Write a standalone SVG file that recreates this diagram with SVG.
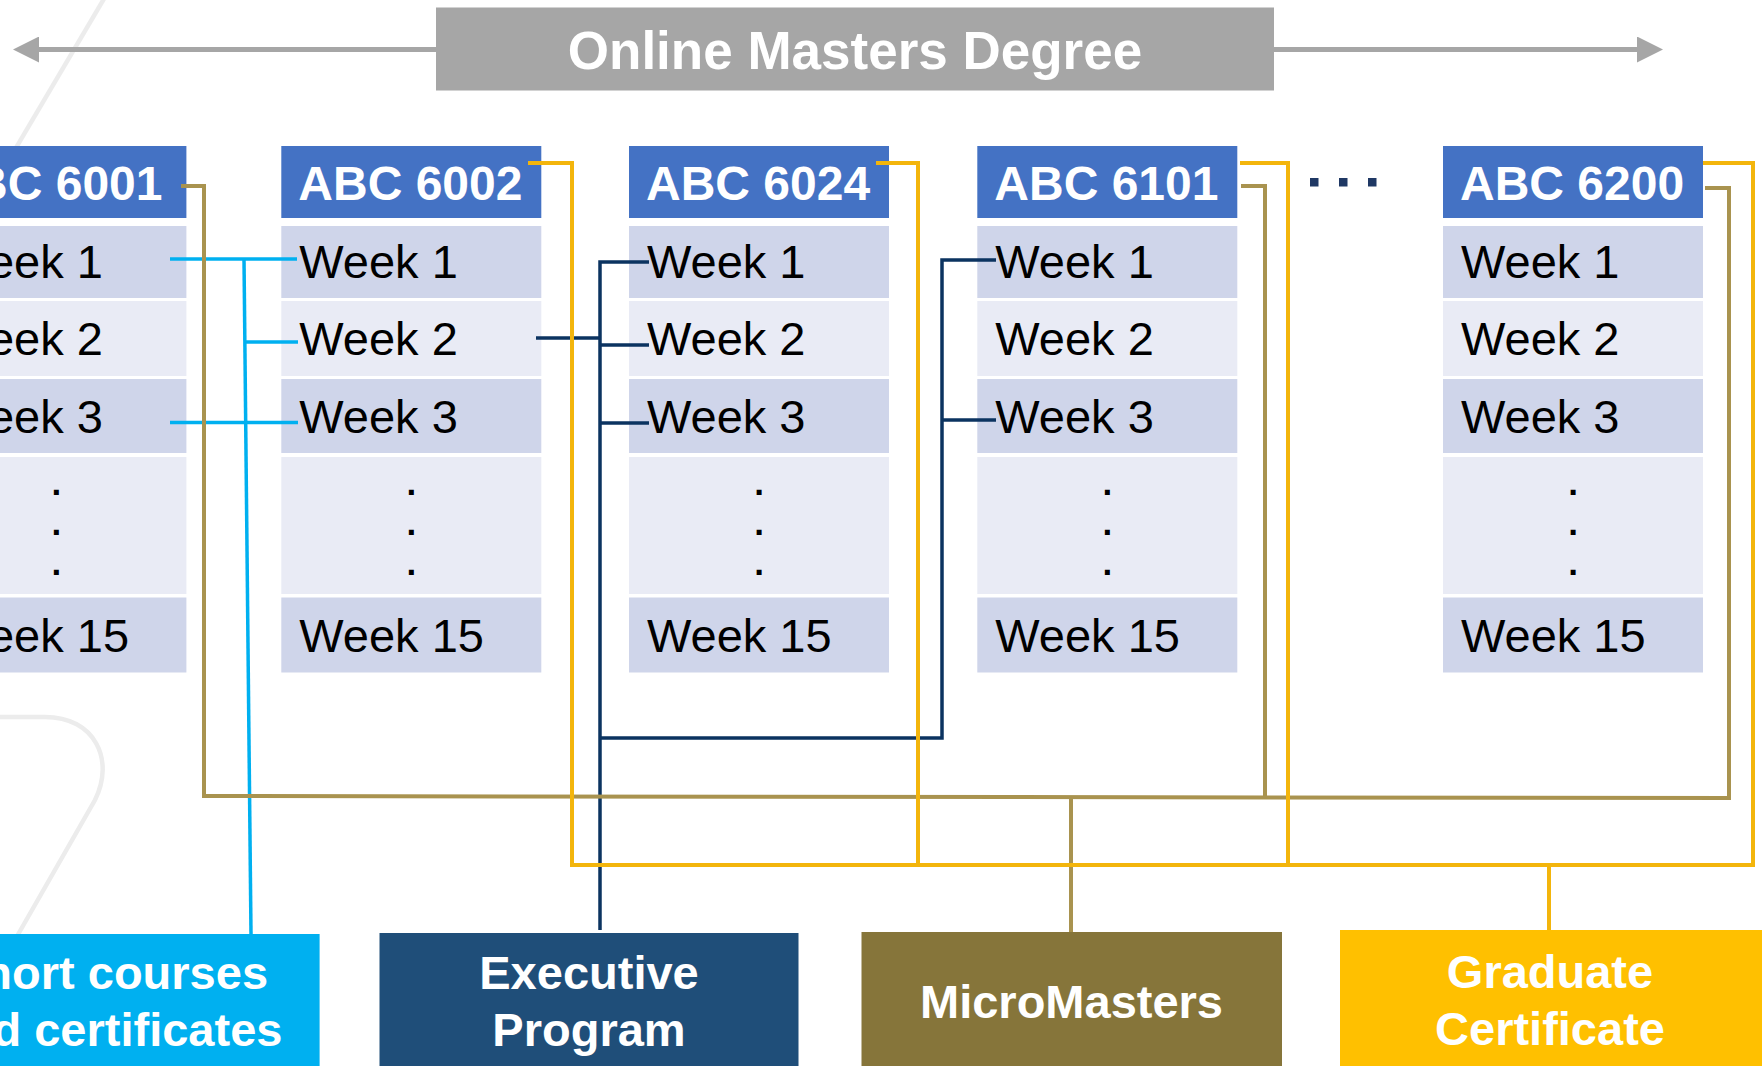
<svg xmlns="http://www.w3.org/2000/svg" width="1762" height="1066" viewBox="0 0 1762 1066">
<style>
  text { font-family: "Liberation Sans", Arial, sans-serif; }
  .hdr { fill: #4472C4; }
  .rowA { fill: #CFD5EA; }
  .rowB { fill: #E9EBF5; }
  .hdrT { fill: #FFFFFF; font-size: 48px; font-weight: bold; }
  .wk { fill: #000000; font-size: 47px; }
  .dot { fill: #000000; font-size: 35px; font-weight: bold; text-anchor: middle; }
  .boxT { fill: #FFFFFF; font-size: 47px; font-weight: bold; text-anchor: middle; }
  .c { fill: none; stroke-linejoin: miter; stroke-linecap: butt; }
  .cyan { stroke: #00B0F0; stroke-width: 3.5; }
  .navy { stroke: #0B3360; stroke-width: 3.5; }
  .olive { stroke: #A9934F; stroke-width: 4; }
  .gold { stroke: #F3B50C; stroke-width: 4; }
  .wm { fill: none; stroke: #ECECEC; stroke-width: 4.5; }
</style>
<defs>
  <marker id="ah" markerUnits="userSpaceOnUse" markerWidth="26" markerHeight="26" refX="0" refY="13" orient="auto-start-reverse">
    <path d="M0,0 L26,13 L0,26 Z" fill="#A6A6A6"/>
  </marker>
</defs>
<rect width="1762" height="1066" fill="#FFFFFF"/>

<g id="watermark">
  <path class="wm" d="M108,-8 L-6,185"/>
  <path class="wm" d="M-30,717 L45,717 C95,717 115,760 95,800 L8,952"/>
</g>

<g id="title">
  <line x1="39" y1="49.5" x2="1637" y2="49.5" stroke="#A6A6A6" stroke-width="5" marker-start="url(#ah)" marker-end="url(#ah)"/>
  <rect x="436" y="7.5" width="838" height="83" fill="#A6A6A6"/>
  <text x="855" y="69" fill="#FFFFFF" font-size="53" font-weight="bold" text-anchor="middle">Online Masters Degree</text>
</g>

<g id="course-6001" transform="translate(-73.6,0)">
  <rect class="hdr" x="0" y="146" width="260" height="72"/>
  <text class="hdrT" x="12" y="200">ABC 6001</text>
  <rect class="rowA" x="0" y="226" width="260" height="72"/>
  <text class="wk" x="18" y="278">Week 1</text>
  <rect class="rowB" x="0" y="301" width="260" height="75"/>
  <text class="wk" x="18" y="355">Week 2</text>
  <rect class="rowA" x="0" y="379" width="260" height="74"/>
  <text class="wk" x="18" y="433">Week 3</text>
  <rect class="rowB" x="0" y="457" width="260" height="137"/>
  <text class="dot" x="130" y="494.5">.</text>
  <text class="dot" x="130" y="534.5">.</text>
  <text class="dot" x="130" y="574.5">.</text>
  <rect class="rowA" x="0" y="597.5" width="260" height="75"/>
  <text class="wk" x="18" y="652">Week 15</text>
</g>

<g id="course-6002" transform="translate(281.3,0)">
  <rect class="hdr" x="0" y="146" width="260" height="72"/>
  <text class="hdrT" x="17" y="200">ABC 6002</text>
  <rect class="rowA" x="0" y="226" width="260" height="72"/>
  <text class="wk" x="18" y="278">Week 1</text>
  <rect class="rowB" x="0" y="301" width="260" height="75"/>
  <text class="wk" x="18" y="355">Week 2</text>
  <rect class="rowA" x="0" y="379" width="260" height="74"/>
  <text class="wk" x="18" y="433">Week 3</text>
  <rect class="rowB" x="0" y="457" width="260" height="137"/>
  <text class="dot" x="130" y="494.5">.</text>
  <text class="dot" x="130" y="534.5">.</text>
  <text class="dot" x="130" y="574.5">.</text>
  <rect class="rowA" x="0" y="597.5" width="260" height="75"/>
  <text class="wk" x="18" y="652">Week 15</text>
</g>

<g id="course-6024" transform="translate(629,0)">
  <rect class="hdr" x="0" y="146" width="260" height="72"/>
  <text class="hdrT" x="17" y="200">ABC 6024</text>
  <rect class="rowA" x="0" y="226" width="260" height="72"/>
  <text class="wk" x="18" y="278">Week 1</text>
  <rect class="rowB" x="0" y="301" width="260" height="75"/>
  <text class="wk" x="18" y="355">Week 2</text>
  <rect class="rowA" x="0" y="379" width="260" height="74"/>
  <text class="wk" x="18" y="433">Week 3</text>
  <rect class="rowB" x="0" y="457" width="260" height="137"/>
  <text class="dot" x="130" y="494.5">.</text>
  <text class="dot" x="130" y="534.5">.</text>
  <text class="dot" x="130" y="574.5">.</text>
  <rect class="rowA" x="0" y="597.5" width="260" height="75"/>
  <text class="wk" x="18" y="652">Week 15</text>
</g>

<g id="course-6101" transform="translate(977.3,0)">
  <rect class="hdr" x="0" y="146" width="260" height="72"/>
  <text class="hdrT" x="17" y="200">ABC 6101</text>
  <rect class="rowA" x="0" y="226" width="260" height="72"/>
  <text class="wk" x="18" y="278">Week 1</text>
  <rect class="rowB" x="0" y="301" width="260" height="75"/>
  <text class="wk" x="18" y="355">Week 2</text>
  <rect class="rowA" x="0" y="379" width="260" height="74"/>
  <text class="wk" x="18" y="433">Week 3</text>
  <rect class="rowB" x="0" y="457" width="260" height="137"/>
  <text class="dot" x="130" y="494.5">.</text>
  <text class="dot" x="130" y="534.5">.</text>
  <text class="dot" x="130" y="574.5">.</text>
  <rect class="rowA" x="0" y="597.5" width="260" height="75"/>
  <text class="wk" x="18" y="652">Week 15</text>
</g>

<g id="ellipsis" fill="#1F3864">
  <rect x="1310" y="178" width="8.5" height="8.5"/>
  <rect x="1339" y="178" width="8.5" height="8.5"/>
  <rect x="1368" y="178" width="8.5" height="8.5"/>
</g>

<g id="course-6200" transform="translate(1443,0)">
  <rect class="hdr" x="0" y="146" width="260" height="72"/>
  <text class="hdrT" x="17" y="200">ABC 6200</text>
  <rect class="rowA" x="0" y="226" width="260" height="72"/>
  <text class="wk" x="18" y="278">Week 1</text>
  <rect class="rowB" x="0" y="301" width="260" height="75"/>
  <text class="wk" x="18" y="355">Week 2</text>
  <rect class="rowA" x="0" y="379" width="260" height="74"/>
  <text class="wk" x="18" y="433">Week 3</text>
  <rect class="rowB" x="0" y="457" width="260" height="137"/>
  <text class="dot" x="130" y="494.5">.</text>
  <text class="dot" x="130" y="534.5">.</text>
  <text class="dot" x="130" y="574.5">.</text>
  <rect class="rowA" x="0" y="597.5" width="260" height="75"/>
  <text class="wk" x="18" y="652">Week 15</text>
</g>

<g id="connectors">
  <!-- Short courses (cyan) -->
  <path class="c cyan" d="M170,259 L297,259"/>
  <path class="c cyan" d="M244,259 L251,934"/>
  <path class="c cyan" d="M245,342 L298,342"/>
  <path class="c cyan" d="M170,422.5 L298,422.5"/>
  <!-- Executive Program (navy) -->
  <path class="c navy" d="M536,338 L600,338"/>
  <path class="c navy" d="M649,262 L600,262 L600,930"/>
  <path class="c navy" d="M600,345 L649,345"/>
  <path class="c navy" d="M600,423 L649,423"/>
  <path class="c navy" d="M600,738 L942,738 L942,260 L996,260"/>
  <path class="c navy" d="M942,420 L996,420"/>
  <!-- MicroMasters (olive) -->
  <path class="c olive" d="M181,186 L204,186 L204,796 L1729,798 L1729,188 L1705,188"/>
  <path class="c olive" d="M1241,186 L1265,186 L1265,797"/>
  <path class="c olive" d="M1071,797 L1071,932"/>
  <!-- Graduate Certificate (gold) -->
  <path class="c gold" d="M528,163 L572,163 L572,865 L1753,865 L1753,163 L1703,163"/>
  <path class="c gold" d="M876,163 L918,163 L918,865"/>
  <path class="c gold" d="M1240,163 L1288,163 L1288,865"/>
  <path class="c gold" d="M1549,865 L1549,930"/>
</g>

<g id="short-courses">
  <rect x="-99" y="934" width="418.6" height="140" fill="#00B0F0"/>
  <text class="boxT" x="110" y="989">Short courses</text>
  <text class="boxT" x="110" y="1046">and certificates</text>
</g>

<g id="executive-program">
  <rect x="379.5" y="933" width="419" height="140" fill="#1F4E79"/>
  <text class="boxT" x="589" y="989">Executive</text>
  <text class="boxT" x="589" y="1046">Program</text>
</g>

<g id="micromasters">
  <rect x="861.5" y="932" width="420.5" height="140" fill="#86753A"/>
  <text class="boxT" x="1071.5" y="1018">MicroMasters</text>
</g>

<g id="graduate-certificate">
  <rect x="1340" y="930" width="425" height="140" fill="#FFC000"/>
  <text class="boxT" x="1550" y="988">Graduate</text>
  <text class="boxT" x="1550" y="1045">Certificate</text>
</g>
</svg>
